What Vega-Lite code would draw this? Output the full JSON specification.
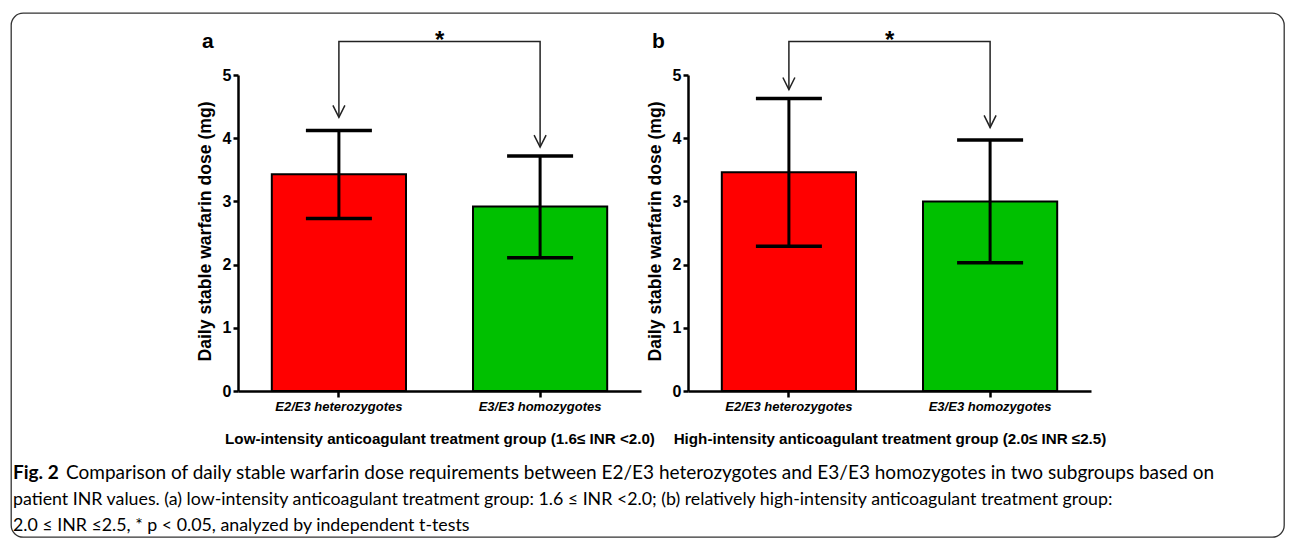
{
  "$schema": "https://vega.github.io/schema/vega-lite/v6.json",
  "background": "white",
  "padding": {"left": 10, "top": 12, "right": 7, "bottom": 4},
  "bounds": "flush",
  "spacing": 0,
  "config": {
    "view": {"stroke": null},
    "axis": {
      "domainColor": "black", "domainWidth": 2.5, "tickColor": "black", "tickWidth": 2.5,
      "labelColor": "black", "titleColor": "black", "grid": false,
      "labelFont": "Liberation Sans", "titleFont": "Liberation Sans"
    },
    "axisY": {"labelFontSize": 16, "labelFontWeight": "bold", "tickSize": 5, "labelPadding": 2,
      "titleFontSize": 17.6, "titleFontWeight": "bold", "titleX": -33, "titleY": 156, "titleBaseline": "middle", "titleAlign": "center", "titleAngle": -90},
    "axisX": {"labelFontSize": 13, "labelFontWeight": "bold", "labelFontStyle": "italic", "labelAngle": 0, "tickSize": 6, "labelPadding": 3,
      "titleFontSize": 15.2, "titleFontWeight": "bold", "titleY": 47, "titleBaseline": "middle"}
  },
  "datasets": {
    "barsA": [
      {"group": "E2/E3 heterozygotes", "mean": 3.43, "lo": 2.73, "hi": 4.12},
      {"group": "E3/E3 homozygotes", "mean": 2.92, "lo": 2.11, "hi": 3.72}
    ],
    "barsB": [
      {"group": "E2/E3 heterozygotes", "mean": 3.46, "lo": 2.29, "hi": 4.63},
      {"group": "E3/E3 homozygotes", "mean": 3.0, "lo": 2.03, "hi": 3.97}
    ],
    "bracketA": [
      {"group": "E2/E3 heterozygotes", "v": 4.33, "ord": 1, "tip": true},
      {"group": "E2/E3 heterozygotes", "v": 5.53, "ord": 2, "tip": false},
      {"group": "E3/E3 homozygotes", "v": 5.53, "ord": 3, "tip": false},
      {"group": "E3/E3 homozygotes", "v": 3.86, "ord": 4, "tip": true}
    ],
    "bracketB": [
      {"group": "E2/E3 heterozygotes", "v": 4.77, "ord": 1, "tip": true},
      {"group": "E2/E3 heterozygotes", "v": 5.53, "ord": 2, "tip": false},
      {"group": "E3/E3 homozygotes", "v": 5.53, "ord": 3, "tip": false},
      {"group": "E3/E3 homozygotes", "v": 4.17, "ord": 4, "tip": true}
    ],
    "caption": [
      {"line": 1, "part": "bold", "text": "Fig. 2"},
      {"line": 1, "part": "rest", "text": "Comparison of daily stable warfarin dose requirements between E2/E3 heterozygotes and E3/E3 homozygotes in two subgroups based on"},
      {"line": 2, "part": "plain", "text": "patient INR values. (a) low-intensity anticoagulant treatment group: 1.6 ≤ INR <2.0; (b) relatively high-intensity anticoagulant treatment group:"},
      {"line": 3, "part": "plain", "text": "2.0 ≤ INR ≤2.5, * p < 0.05, analyzed by independent t-tests"}
    ]
  },
  "vconcat": [
    {
      "bounds": "flush",
      "spacing": 0,
      "vconcat": [
        {"width": 1080, "height": 62, "data": {"values": []}, "mark": "point"},
        {
          "bounds": "flush",
          "spacing": 47,
          "hconcat": [
            {"width": 180, "height": 316, "data": {"values": []}, "mark": "point"},
            {
              "width": 403, "height": 316,
              "layer": [
                {"data": {"name": "barsA"}, "mark": {"type": "bar", "stroke": "black", "strokeWidth": 2},
                  "encoding": {
                    "x": {"field": "group", "type": "nominal", "sort": null,
                      "scale": {"domain": ["E2/E3 heterozygotes", "E3/E3 homozygotes"], "paddingInner": 0.333, "paddingOuter": 0.168},
                      "title": "Low-intensity anticoagulant treatment group (1.6≤ INR <2.0)"},
                    "y": {"field": "mean", "type": "quantitative", "scale": {"domain": [0, 5], "nice": false},
                      "axis": {"values": [0, 1, 2, 3, 4, 5], "format": "d"}, "title": "Daily stable warfarin dose (mg)"},
                    "color": {"field": "group", "type": "nominal", "scale": {"domain": ["E2/E3 heterozygotes", "E3/E3 homozygotes"], "range": ["#ff0000", "#00c000"]}, "legend": null}
                  }},
                {"data": {"name": "barsA"}, "mark": {"type": "rule", "color": "black", "strokeWidth": 3},
                  "encoding": {"x": {"field": "group", "type": "nominal"}, "y": {"field": "lo", "type": "quantitative"}, "y2": {"field": "hi"}}},
                {"data": {"name": "barsA"}, "mark": {"type": "tick", "color": "black", "size": 66, "thickness": 3.5, "opacity": 1},
                  "encoding": {"x": {"field": "group", "type": "nominal"}, "y": {"field": "lo", "type": "quantitative"}}},
                {"data": {"name": "barsA"}, "mark": {"type": "tick", "color": "black", "size": 66, "thickness": 3.5, "opacity": 1},
                  "encoding": {"x": {"field": "group", "type": "nominal"}, "y": {"field": "hi", "type": "quantitative"}}},
                {"data": {"name": "bracketA"}, "mark": {"type": "line", "color": "#222", "strokeWidth": 1.5},
                  "encoding": {"x": {"field": "group", "type": "nominal"}, "y": {"field": "v", "type": "quantitative"}, "order": {"field": "ord"}}},
                {"data": {"name": "bracketA"}, "transform": [{"filter": "datum.tip"}],
                  "mark": {"type": "point", "shape": "M-0.5,-1L0,0L0.5,-1", "filled": false, "size": 576, "stroke": "#222", "strokeWidth": 1.5, "opacity": 1},
                  "encoding": {"x": {"field": "group", "type": "nominal"}, "y": {"field": "v", "type": "quantitative"}}},
                {"data": {"values": [{}]}, "mark": {"type": "text", "text": "*", "font": "Liberation Sans", "fontSize": 24, "fontWeight": "bold", "baseline": "alphabetic", "align": "center", "color": "black"},
                  "encoding": {"x": {"datum": "E2/E3 heterozygotes", "bandPosition": 1.25}, "y": {"datum": 5.42}}},
                {"data": {"values": [{}]}, "mark": {"type": "text", "text": "a", "font": "Liberation Sans", "fontSize": 21, "fontWeight": "bold", "baseline": "alphabetic", "align": "left", "color": "black"},
                  "encoding": {"x": {"datum": "E2/E3 heterozygotes", "bandPosition": -0.52}, "y": {"datum": 5.43}}}
              ]
            },
            {
              "width": 403, "height": 316,
              "layer": [
                {"data": {"name": "barsB"}, "mark": {"type": "bar", "stroke": "black", "strokeWidth": 2},
                  "encoding": {
                    "x": {"field": "group", "type": "nominal", "sort": null,
                      "scale": {"domain": ["E2/E3 heterozygotes", "E3/E3 homozygotes"], "paddingInner": 0.333, "paddingOuter": 0.168},
                      "title": "High-intensity anticoagulant treatment group (2.0≤ INR ≤2.5)"},
                    "y": {"field": "mean", "type": "quantitative", "scale": {"domain": [0, 5], "nice": false},
                      "axis": {"values": [0, 1, 2, 3, 4, 5], "format": "d"}, "title": "Daily stable warfarin dose (mg)"},
                    "color": {"field": "group", "type": "nominal", "scale": {"domain": ["E2/E3 heterozygotes", "E3/E3 homozygotes"], "range": ["#ff0000", "#00c000"]}, "legend": null}
                  }},
                {"data": {"name": "barsB"}, "mark": {"type": "rule", "color": "black", "strokeWidth": 3},
                  "encoding": {"x": {"field": "group", "type": "nominal"}, "y": {"field": "lo", "type": "quantitative"}, "y2": {"field": "hi"}}},
                {"data": {"name": "barsB"}, "mark": {"type": "tick", "color": "black", "size": 66, "thickness": 3.5, "opacity": 1},
                  "encoding": {"x": {"field": "group", "type": "nominal"}, "y": {"field": "lo", "type": "quantitative"}}},
                {"data": {"name": "barsB"}, "mark": {"type": "tick", "color": "black", "size": 66, "thickness": 3.5, "opacity": 1},
                  "encoding": {"x": {"field": "group", "type": "nominal"}, "y": {"field": "hi", "type": "quantitative"}}},
                {"data": {"name": "bracketB"}, "mark": {"type": "line", "color": "#222", "strokeWidth": 1.5},
                  "encoding": {"x": {"field": "group", "type": "nominal"}, "y": {"field": "v", "type": "quantitative"}, "order": {"field": "ord"}}},
                {"data": {"name": "bracketB"}, "transform": [{"filter": "datum.tip"}],
                  "mark": {"type": "point", "shape": "M-0.5,-1L0,0L0.5,-1", "filled": false, "size": 576, "stroke": "#222", "strokeWidth": 1.5, "opacity": 1},
                  "encoding": {"x": {"field": "group", "type": "nominal"}, "y": {"field": "v", "type": "quantitative"}}},
                {"data": {"values": [{}]}, "mark": {"type": "text", "text": "*", "font": "Liberation Sans", "fontSize": 24, "fontWeight": "bold", "baseline": "alphabetic", "align": "center", "color": "black"},
                  "encoding": {"x": {"datum": "E2/E3 heterozygotes", "bandPosition": 1.25}, "y": {"datum": 5.42}}},
                {"data": {"values": [{}]}, "mark": {"type": "text", "text": "b", "font": "Liberation Sans", "fontSize": 21, "fontWeight": "bold", "baseline": "alphabetic", "align": "left", "color": "black"},
                  "encoding": {"x": {"datum": "E2/E3 heterozygotes", "bandPosition": -0.52}, "y": {"datum": 5.43}}}
              ]
            }
          ]
        }
      ]
    },
    {
      "width": 1273, "height": 524,
      "view": {"stroke": "#333", "strokeWidth": 1.3, "cornerRadius": 12, "fill": null},
      "data": {"name": "caption"},
      "encoding": {
        "y": {"field": "line", "type": "ordinal", "scale": {"type": "point", "domain": [1, 2, 3], "range": [466, 518], "padding": 0}, "axis": null},
        "text": {"field": "text"}
      },
      "layer": [
        {"transform": [{"filter": "datum.part == 'bold'"}],
          "mark": {"type": "text", "align": "left", "baseline": "alphabetic", "font": "Lato", "fontSize": 19, "fontWeight": "bold", "color": "black"},
          "encoding": {"x": {"datum": 0, "type": "quantitative", "scale": {"domain": [0, 1], "range": [2, 1271]}, "axis": null}}},
        {"transform": [{"filter": "datum.part == 'rest'"}],
          "mark": {"type": "text", "align": "left", "baseline": "alphabetic", "font": "Lato", "fontSize": 19, "color": "black", "dx": 53},
          "encoding": {"x": {"datum": 0, "type": "quantitative"}}},
        {"transform": [{"filter": "datum.part == 'plain'"}],
          "mark": {"type": "text", "align": "left", "baseline": "alphabetic", "font": "Lato", "fontSize": 17.8, "color": "black"},
          "encoding": {"x": {"datum": 0, "type": "quantitative"}}}
      ]
    }
  ]
}
